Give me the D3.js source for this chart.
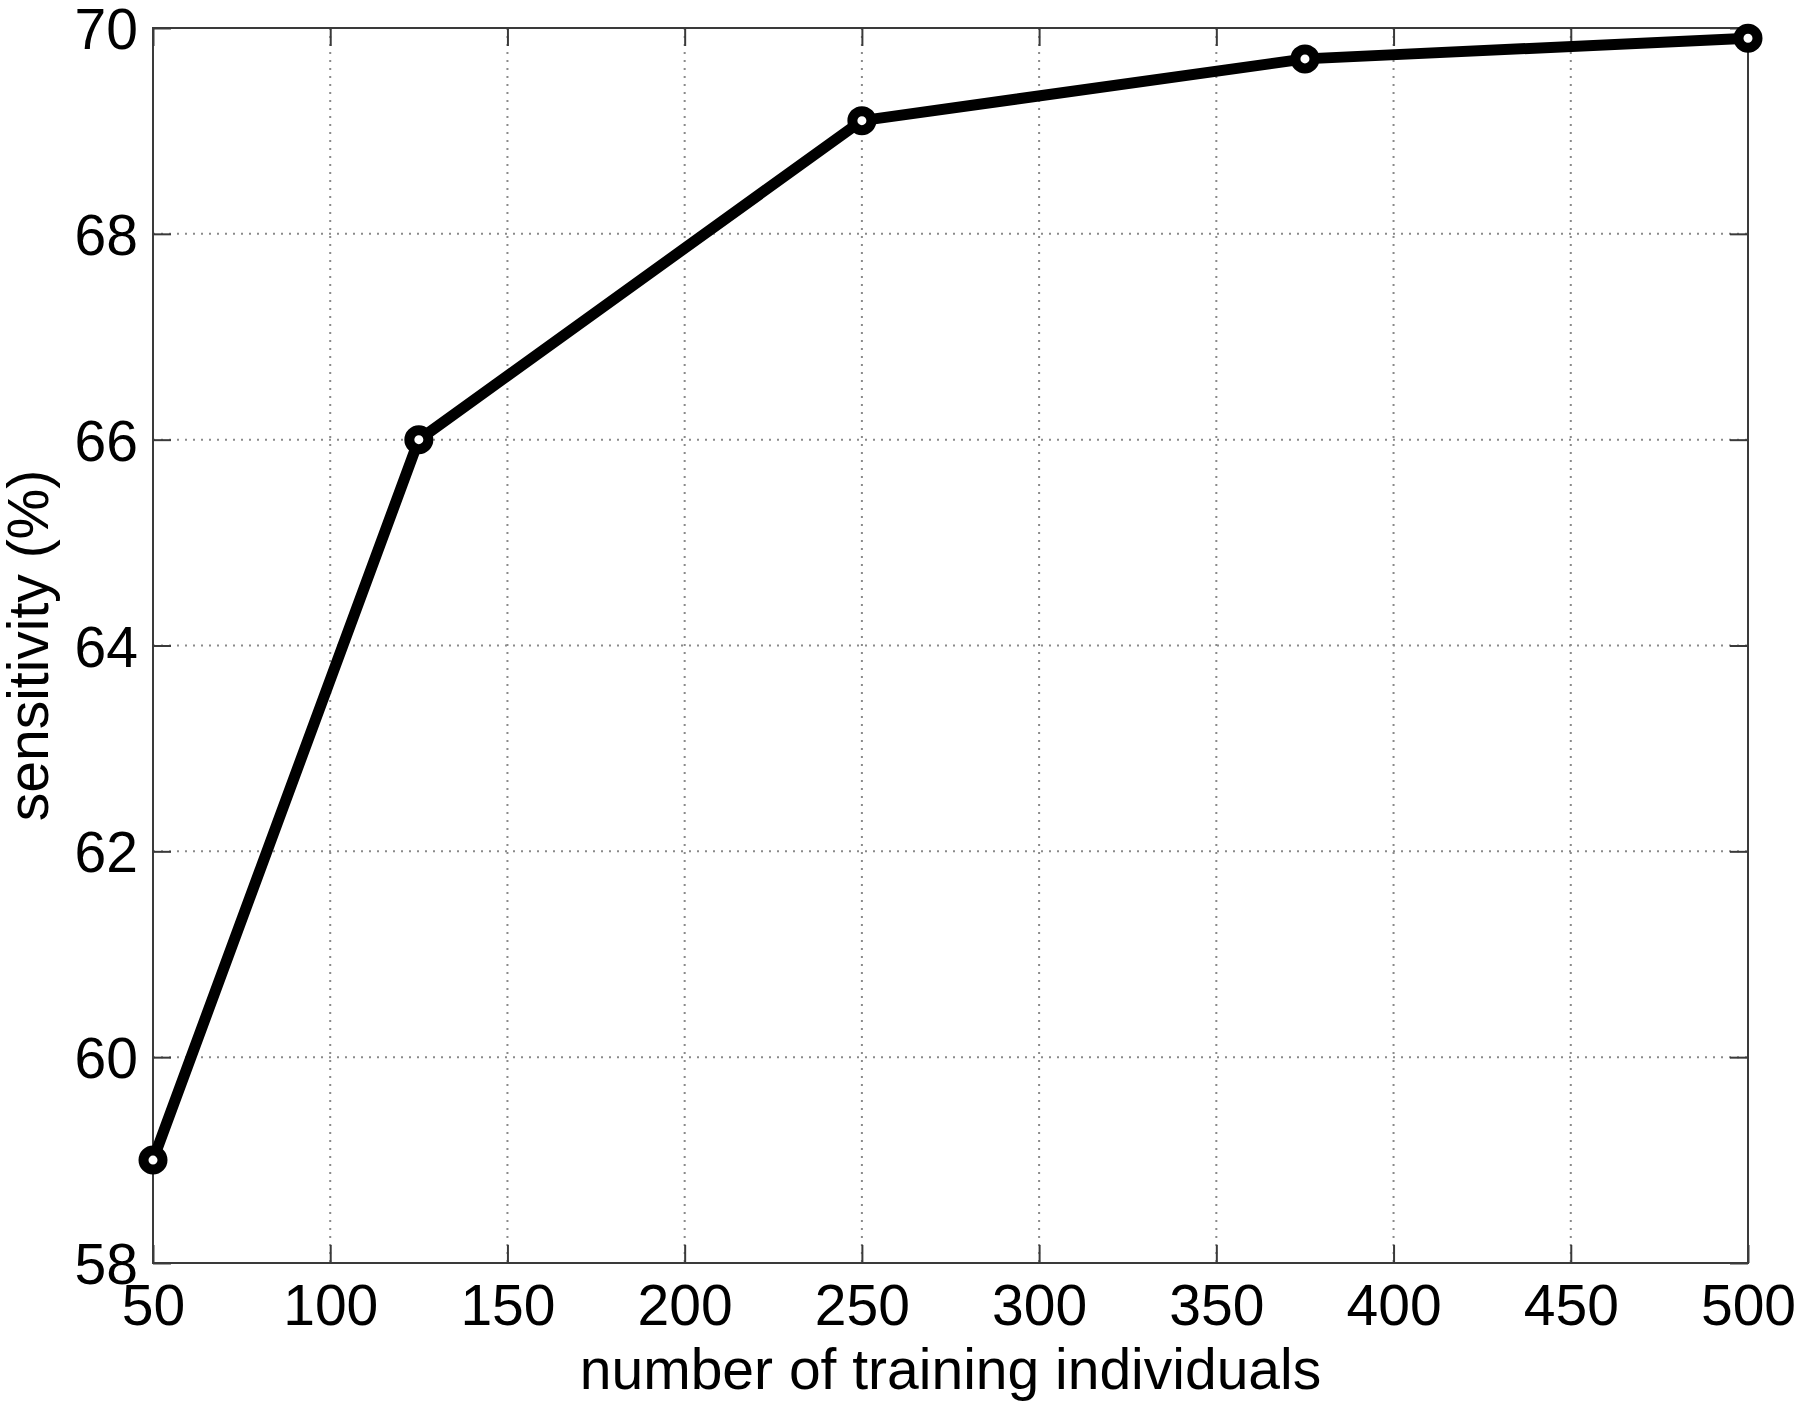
<!DOCTYPE html>
<html><head><meta charset="utf-8">
<script src="https://cdn.jsdelivr.net/npm/d3@7/dist/d3.min.js"></script>
<style>html,body{margin:0;padding:0;background:#fff;}svg{display:block;}</style>
</head><body>
<svg id="chart" width="1800" height="1406"></svg>
<script>
const trainingSizes = [50, 125, 250, 375, 500];
const sensitivity = [59.0, 66.0, 69.1, 69.7, 69.9];
const xTicks = [50, 100, 150, 200, 250, 300, 350, 400, 450, 500];
const yTicks = [58, 60, 62, 64, 66, 68, 70];
const xLabel = "number of training individuals";
const yLabel = "sensitivity (%)";

const svg = d3.select("#chart");
const L = 153, R = 1748, T = 28, B = 1263;
const x = d3.scaleLinear().domain([50, 500]).range([L, R]);
const y = d3.scaleLinear().domain([58, 70]).range([B, T]);
const font = "'Liberation Sans', Arial, sans-serif";
const fs = 57;
const tickLen = 18;
const axisColor = "#3a3a3a";

// grid
const grid = svg.append("g");
grid.selectAll("line.vx").data(xTicks.slice(1, -1)).enter().append("line")
  .attr("x1", d => x(d)).attr("x2", d => x(d)).attr("y1", T).attr("y2", B)
  .attr("stroke", "#8a8a8a").attr("stroke-width", 2).attr("stroke-dasharray", "2,6");
grid.selectAll("line.hy").data(yTicks.slice(1, -1)).enter().append("line")
  .attr("y1", d => y(d)).attr("y2", d => y(d)).attr("x1", L).attr("x2", R)
  .attr("stroke", "#8a8a8a").attr("stroke-width", 2).attr("stroke-dasharray", "2,6");

// axes via d3
const xAxisB = d3.axisBottom(x).tickValues(xTicks).tickSizeInner(-tickLen).tickSizeOuter(0).tickPadding(22);
const xAxisT = d3.axisTop(x).tickValues(xTicks).tickSizeInner(-tickLen).tickSizeOuter(0).tickFormat("");
const yAxisL = d3.axisLeft(y).tickValues(yTicks).tickSizeInner(-tickLen).tickSizeOuter(0).tickPadding(15);
const yAxisR = d3.axisRight(y).tickValues(yTicks).tickSizeInner(-tickLen).tickSizeOuter(0).tickFormat("");

function style(g) {
  g.select(".domain").remove();
  g.selectAll(".tick line").attr("stroke", axisColor).attr("stroke-width", 2);
  g.selectAll(".tick text").attr("fill", "#000").style("font-family", font).style("font-size", fs + "px");
}
svg.append("g").attr("transform", `translate(0,${B})`).call(xAxisB).call(style);
svg.append("g").attr("transform", `translate(0,${T})`).call(xAxisT).call(style);
svg.append("g").attr("transform", `translate(${L},0)`).call(yAxisL).call(style)
  .selectAll(".tick text").attr("dy", "0.36em");
svg.append("g").attr("transform", `translate(${R},0)`).call(yAxisR).call(style);

// frame
svg.append("rect").attr("x", L).attr("y", T).attr("width", R - L).attr("height", B - T)
  .attr("fill", "none").attr("stroke", axisColor).attr("stroke-width", 2);

// line
const pts = trainingSizes.map((d, i) => [d, sensitivity[i]]);
svg.append("path").datum(pts)
  .attr("d", d3.line().x(d => x(d[0])).y(d => y(d[1])))
  .attr("fill", "none").attr("stroke", "#000").attr("stroke-width", 11).attr("stroke-linejoin", "round");
svg.selectAll("circle.m").data(pts).enter().append("circle")
  .attr("cx", d => x(d[0])).attr("cy", d => y(d[1])).attr("r", 9.5)
  .attr("fill", "#fff").attr("stroke", "#000").attr("stroke-width", 10);

// labels
svg.append("text").attr("x", (L + R) / 2).attr("y", 1389).attr("text-anchor", "middle")
  .style("font-family", font).style("font-size", fs + "px").text(xLabel);
svg.append("text").attr("transform", `translate(48,${(T + B) / 2}) rotate(-90)`).attr("text-anchor", "middle")
  .style("font-family", font).style("font-size", fs + "px").text(yLabel);
</script>
</body></html>
